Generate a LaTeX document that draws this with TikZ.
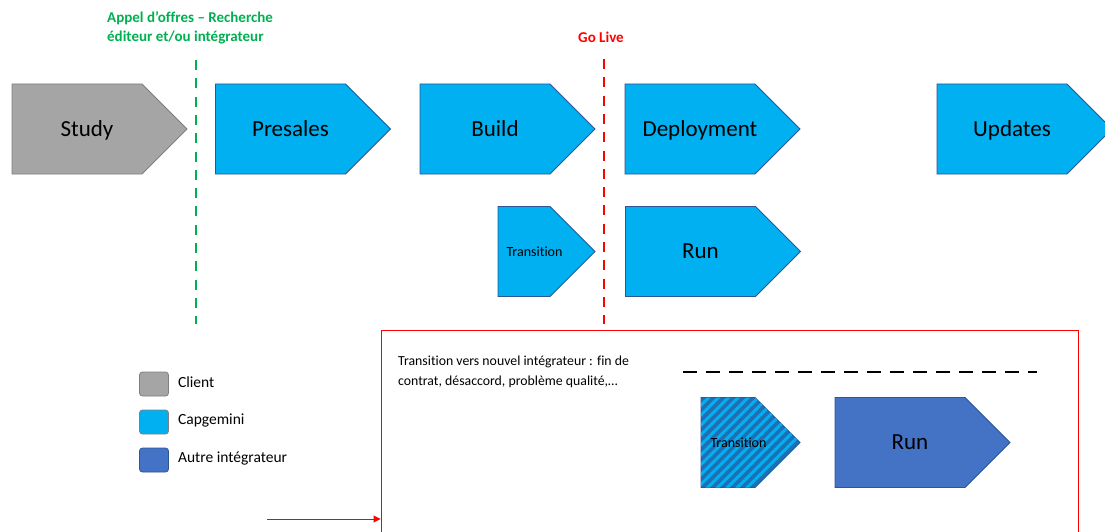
\documentclass[tikz,border=0pt]{standalone}
\usepackage{fontspec}
\setmainfont{Carlito}[Ligatures=NoCommon]
\usepackage{tikz}
\usetikzlibrary{shapes.symbols,patterns.meta,positioning,arrows.meta}

\definecolor{greyPhase}{HTML}{A5A5A5}
\definecolor{greyLine}{HTML}{7F7F7F}
\definecolor{capBlue}{HTML}{00B0F0}
\definecolor{edgeBlue}{HTML}{2F5597}
\definecolor{otherBlue}{HTML}{4472C4}
\definecolor{stripeBlue}{HTML}{1F6FB5}
\definecolor{offreGreen}{HTML}{00B050}
\definecolor{liveRed}{HTML}{FF0000}

\tikzset{
  phase/.style={signal, signal to=east, signal pointer angle=90,
                draw=edgeBlue, line width=0.8pt, fill=capBlue,
                minimum width=175pt, minimum height=90pt, inner sep=0pt},
  smallphase/.style={phase, minimum width=97pt},
  phaselbl/.style={xshift=10pt, inner sep=0pt, text height=16pt, text depth=2pt,
                   font=\fontsize{23}{26}\selectfont},
  smalllbl/.style={xshift=10.5pt, font=\fontsize{14}{16}\selectfont},
  legendbox/.style={draw=greyLine, line width=0.8pt, rounded corners=3pt,
                    minimum width=29pt, minimum height=24pt, inner sep=0pt},
  legendtxt/.style={anchor=west, yshift=2pt, font=\fontsize{15.5}{18}\selectfont, inner sep=0pt},
  milestone/.style={line width=2.6pt, dash pattern=on 10pt off 8.3pt},
}

\begin{document}
\begin{tikzpicture}[x=1pt,y=-1pt]
  \useasboundingbox (0,0) rectangle (1105,532);

  % top row of phases
  \node[phase, fill=greyPhase, draw=greyLine] (study) at (77,129) {};
  \node[phase] (presales) at (280.5,129) {};
  \node[phase] (build) at (485,129) {};
  \node[phase] (deploy) at (690,129) {};
  \node[phase] (updates) at (1002,129) {};
  \node[phaselbl] (studyt) at (study.center) {Study};
  \node[phaselbl] (presalest) at (presales.center) {Presales};
  \node[phaselbl] (buildt) at (build.center) {Build};
  \node[phaselbl] (deployt) at (deploy.center) {Deployment};
  \node[phaselbl] (updatest) at (updates.center) {Updates};

  % second row
  \node[smallphase] (trans) at (524,251.5) {};
  \node[phase] (run) at (690.5,251.5) {};
  \node[smalllbl] (transt) at (trans.center) {Transition};
  \node[phaselbl] (runt) at (run.center) {Run};

  % milestones
  \coordinate (gtop) at (196,60);
  \coordinate (gbot) at (196,324);
  \coordinate (rtop) at (604,59);
  \coordinate (rbot) at (604,324);
  \draw[milestone, offreGreen] (gtop) -- (gbot);
  \draw[milestone, liveRed] (rtop) -- (rbot);
  \node[anchor=west, align=left, text=offreGreen, inner sep=0pt,
        font=\fontsize{15}{19}\selectfont\bfseries] (appel) at (107,27.5)
        {Appel d’offres – Recherche\\éditeur et/ou intégrateur};
  \node[text=liveRed, inner sep=0pt, font=\fontsize{15}{17}\selectfont\bfseries]
        (golive) at (601,37) {Go Live};

  % legend
  \node[legendbox, fill=greyPhase] (lclient) at (154,384) {};
  \node[legendbox, fill=capBlue] (lcap) at (154,422) {};
  \node[legendbox, fill=otherBlue, draw=edgeBlue] (lautre) at (154,460) {};
  \node[legendtxt, right=9pt of lclient] (lclientt) {Client};
  \node[legendtxt, right=9pt of lcap] (lcapt) {Capgemini};
  \node[legendtxt, right=9pt of lautre] (lautret) {Autre intégrateur};

  % change of integrator
  \node[draw=liveRed, line width=0.9pt, minimum width=697pt, minimum height=215pt,
        inner sep=0pt] (redbox) at (729.5,438) {};
  \coordinate (arrfrom) at (267,519);
  \draw[liveRed, line width=0.9pt, -{Triangle[length=7pt,width=7pt]}]
        (arrfrom) -- (arrfrom -| redbox.west);
  \node[anchor=west, align=left, inner sep=0pt,
        font=\fontsize{13.8}{20}\selectfont] (why) at (398,372)
        {Transition vers nouvel intégrateur : fin de\\contrat, désaccord, problème qualité,…};
  \coordinate (bdl) at (683,372);
  \coordinate (bdr) at (1037,372);
  \draw[line width=2.6pt, dash pattern=on 14pt off 9pt] (bdl) -- (bdr);
  \node[smallphase, minimum width=99pt, fill=stripeBlue,
        postaction={pattern={Lines[angle=45,distance=7pt,line width=3pt]},
                    pattern color=capBlue}] (transnew) at (728,442.5) {};
  \node[phase, fill=otherBlue] (runnew) at (900,442.5) {};
  \node[smalllbl] (transnewt) at (transnew.center) {Transition};
  \node[phaselbl] (runnewt) at (runnew.center) {Run};
\end{tikzpicture}
\end{document}
